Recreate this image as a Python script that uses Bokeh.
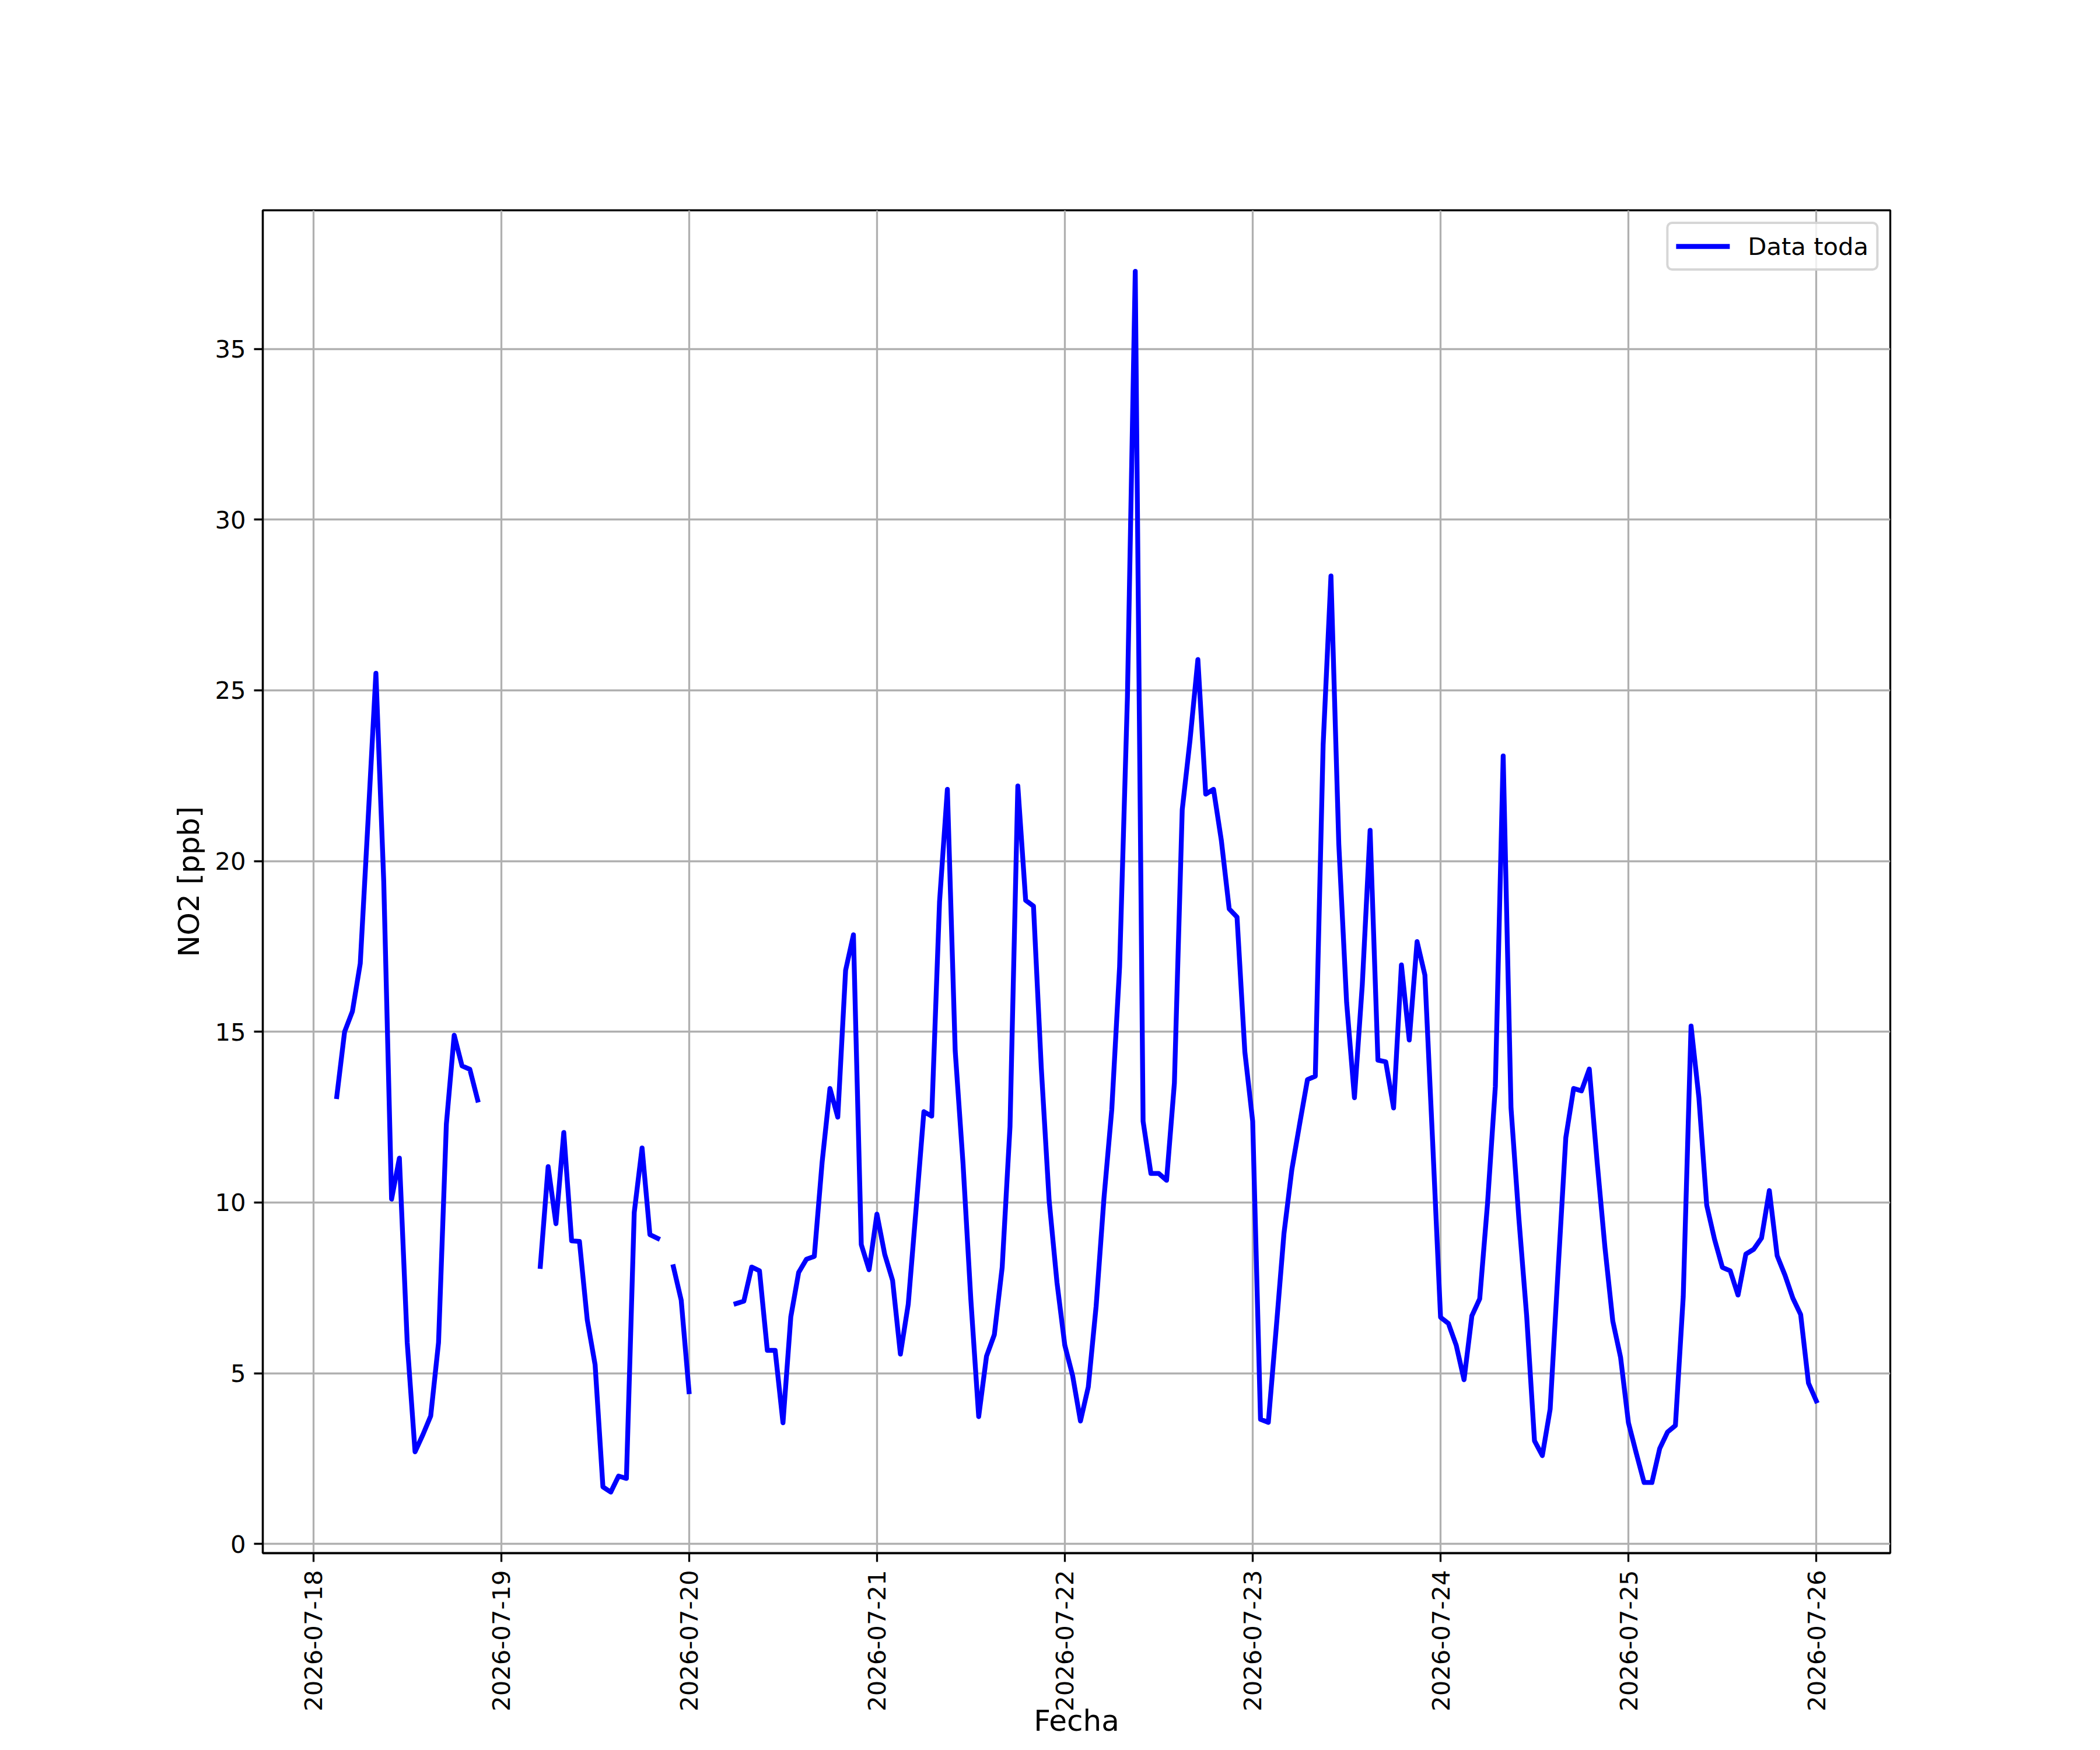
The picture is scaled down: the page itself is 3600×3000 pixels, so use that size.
import numpy as np
import pandas as pd
from math import pi
from bokeh.plotting import figure
from bokeh.models import (Range1d, FixedTicker, DatetimeTickFormatter,
                          ColumnDataSource)
from bokeh.embed import file_html
from bokeh.resources import INLINE

nan = float("nan")

# Hourly NO2 values [ppb], one list per day (index = hour 0..23)
day_0718 = [nan, nan, nan, 13.1, 15.0, 15.6, 17.0, 21.2, 25.5, 19.4, 10.1, 11.3,
            5.9, 2.7, 3.2, 3.75, 5.9, 12.3, 14.9, 14.0, 13.9, 13.0, nan, nan]
day_0719 = [nan, nan, nan, nan, nan, 8.13, 11.05, 9.38, 12.05, 8.88, 8.86, 6.56,
            5.25, 1.67, 1.52, 1.99, 1.92, 9.71, 11.6, 9.06, 8.95, nan, 8.12, 7.14]
day_0720 = [4.46, nan, nan, nan, nan, nan, 7.04, 7.11, 8.11, 8.0, 5.67, 5.67,
            3.55, 6.65, 7.95, 8.34, 8.42, 11.18, 13.34, 12.5, 16.8, 17.84, 8.77, 8.03]
day_0721 = [9.66, 8.48, 7.72, 5.56, 7.02, 9.81, 12.66, 12.53, 18.81, 22.1, 14.44, 11.14,
            7.15, 3.73, 5.5, 6.13, 8.1, 12.22, 22.2, 18.85, 18.68, 13.93, 10.06, 7.66]
day_0722 = [5.82, 4.93, 3.6, 4.6, 6.96, 10.12, 12.72, 16.9, 24.8, 37.27, 12.38, 10.85,
            10.85, 10.65, 13.5, 21.5, 23.55, 25.9, 21.96, 22.1, 20.6, 18.6, 18.36, 14.41]
day_0723 = [12.38, 3.65, 3.56, 6.3, 9.1, 10.96, 12.3, 13.6, 13.7, 23.4, 28.35, 20.5,
            15.86, 13.07, 16.37, 20.9, 14.17, 14.12, 12.77, 16.96, 14.76, 17.64, 16.66, 11.72]
day_0724 = [6.64, 6.46, 5.82, 4.81, 6.68, 7.18, 9.97, 13.4, 23.08, 12.77, 9.54, 6.68,
            3.02, 2.59, 3.95, 7.97, 11.9, 13.34, 13.27, 13.91, 11.19, 8.68, 6.53, 5.46]
day_0725 = [3.55, 2.66, 1.8, 1.8, 2.8, 3.28, 3.47, 7.24, 15.17, 13.07, 9.92, 8.92,
            8.1, 8.0, 7.29, 8.49, 8.63, 8.96, 10.35, 8.44, 7.87, 7.2, 6.72, 4.71]
day_0726 = [4.19]

series_start = "2026-07-18 00:00"
series_label = "Data toda"
x_title = "Fecha"
y_title = "NO2 [ppb]"
tick_days = ["2026-07-18", "2026-07-19", "2026-07-20", "2026-07-21", "2026-07-22",
             "2026-07-23", "2026-07-24", "2026-07-25", "2026-07-26"]
y_ticks = [0, 5, 10, 15, 20, 25, 30, 35]

values = np.array(day_0718 + day_0719 + day_0720 + day_0721 + day_0722 +
                  day_0723 + day_0724 + day_0725 + day_0726, dtype=float)
times = pd.date_range(series_start, periods=len(values), freq="h")
t_ms = (times.astype("int64") // 10**6).astype(float)

src = ColumnDataSource(dict(t=t_ms, v=values))

valid = ~np.isnan(values)
tmin, tmax = t_ms[valid].min(), t_ms[valid].max()
vmin, vmax = np.nanmin(values), np.nanmax(values)
tpad = 0.05 * (tmax - tmin)
vpad = 0.05 * (vmax - vmin)

p = figure(width=3584, height=2984, x_axis_type="datetime",
           output_backend="svg", toolbar_location=None,
           x_range=Range1d(tmin - tpad, tmax + tpad),
           y_range=Range1d(vmin - vpad, vmax + vpad),
           min_border_left=450, min_border_right=344,
           min_border_top=360, min_border_bottom=322)

p.background_fill_color = "white"
p.border_fill_color = "white"
p.outline_line_color = "black"
p.outline_line_width = 3.3
p.outline_line_alpha = 1.0

day_ticks = list((pd.to_datetime(tick_days).astype("int64") // 10**6).astype(float))
p.xaxis.ticker = FixedTicker(ticks=day_ticks)
p.yaxis.ticker = FixedTicker(ticks=y_ticks)
fmt = "%Y-%m-%d"
p.xaxis.formatter = DatetimeTickFormatter(days=fmt, months=fmt, hours=fmt,
                                          hourmin=fmt, years=fmt, minutes=fmt,
                                          minsec=fmt, seconds=fmt, milliseconds=fmt,
                                          microseconds=fmt)
p.xaxis.major_label_orientation = pi / 2

for ax in (p.xaxis, p.yaxis):
    ax.axis_line_color = "black"
    ax.axis_line_width = 3.3
    ax.major_tick_line_color = "black"
    ax.major_tick_line_width = 3.3
    ax.major_tick_in = 0
    ax.major_tick_out = 15
    ax.minor_tick_line_color = None
    ax.major_label_standoff = 14
    ax.major_label_text_font = "DejaVu Sans"
    ax.major_label_text_font_size = "41.7px"
    ax.major_label_text_color = "black"
    ax.axis_label_text_font = "DejaVu Sans"
    ax.axis_label_text_font_size = "50px"
    ax.axis_label_text_font_style = "normal"
    ax.axis_label_text_color = "black"

p.xaxis.axis_label = x_title
p.xaxis.axis_label_standoff = -16
p.yaxis.axis_label = y_title
p.yaxis.axis_label_standoff = 12

p.grid.grid_line_color = "#b0b0b0"
p.grid.grid_line_width = 3.3

p.line(x="t", y="v", source=src, line_color="#0000ff", line_width=8.3,
       line_join="round", line_cap="square", legend_label=series_label)

lg = p.legend[0]
lg.location = "top_right"
lg.margin = 20
lg.padding = 13
lg.spacing = 0
lg.glyph_width = 92
lg.glyph_height = 50
lg.label_height = 50
lg.label_standoff = 31
lg.label_text_font = "DejaVu Sans"
lg.label_text_font_size = "41.7px"
lg.label_text_color = "black"
lg.border_line_color = "#cccccc"
lg.border_line_width = 4.2
lg.border_line_alpha = 0.8
lg.background_fill_color = "white"
lg.background_fill_alpha = 0.8
if "border_radius" in lg.properties():
    lg.border_radius = 10

open("out.html", "w").write(file_html(p, INLINE))
